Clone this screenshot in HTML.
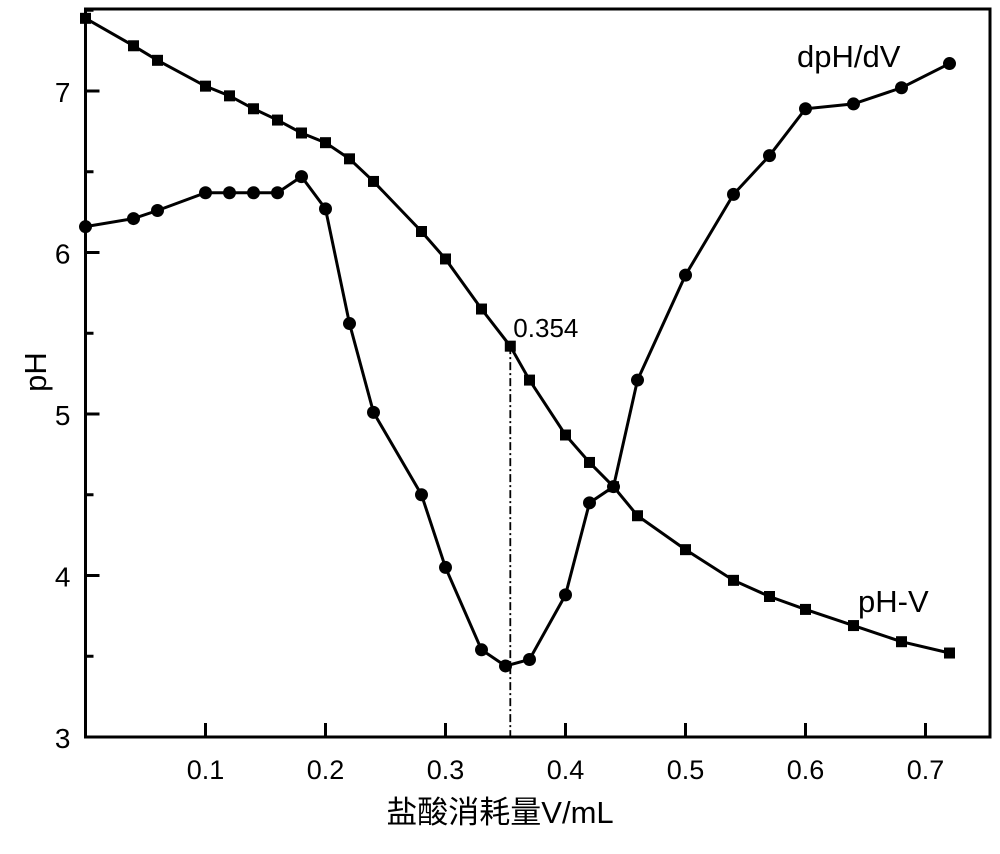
<!DOCTYPE html>
<html><head><meta charset="utf-8"><style>
body{margin:0;background:#fff}
svg text{font-family:"Liberation Sans","Noto Sans CJK SC",sans-serif;fill:#000}
</style></head><body>
<svg id="chart" width="1000" height="849" viewBox="0 0 1000 849" xmlns="http://www.w3.org/2000/svg"></svg>
<script>
const xVals=[0,0.04,0.06,0.1,0.12,0.14,0.16,0.18,0.2,0.22,0.24,0.28,0.3,0.33,0.354,0.37,0.4,0.42,0.44,0.46,0.5,0.54,0.57,0.6,0.64,0.68,0.72];
const phVals=[7.45,7.28,7.19,7.03,6.97,6.89,6.82,6.74,6.68,6.58,6.44,6.13,5.96,5.65,5.42,5.21,4.87,4.70,4.55,4.37,4.16,3.97,3.87,3.79,3.69,3.59,3.52];
const dXVals=[0,0.04,0.06,0.1,0.12,0.14,0.16,0.18,0.2,0.22,0.24,0.28,0.3,0.33,0.35,0.37,0.4,0.42,0.44,0.46,0.5,0.54,0.57,0.6,0.64,0.68,0.72];
const dVals=[6.16,6.21,6.26,6.37,6.37,6.37,6.37,6.47,6.27,5.56,5.01,4.50,4.05,3.54,3.44,3.48,3.88,4.45,4.55,5.21,5.86,6.36,6.60,6.89,6.92,7.02,7.17];
const xTicks=[0.1,0.2,0.3,0.4,0.5,0.6,0.7];
const yTicks=[3,4,5,6,7];
const yMinor=[3.5,4.5,5.5,6.5,7.5];
const eqX=0.354, eqPH=5.42;
const L=85.5,R=990,T=9,B=737;
const sx=v=>L+v*1200;
const sy=v=>B-(v-3)*161.5;
const svg=document.getElementById('chart');
const NS='http://www.w3.org/2000/svg';
function mk(tag,attrs,parent){const e=document.createElementNS(NS,tag);for(const k in attrs)e.setAttribute(k,attrs[k]);(parent||svg).appendChild(e);return e;}
const frame=mk('rect',{x:L,y:T,width:R-L,height:B-T,fill:'none',stroke:'#000','stroke-width':3});


xTicks.forEach(t=>{
 const l=mk('line',{x1:sx(t),x2:sx(t),y1:B,y2:B-14,stroke:'#000','stroke-width':3});
 
 
 const tx=mk('text',{x:sx(t),y:B+42,'text-anchor':'middle','font-size':27});
 tx.textContent=t.toFixed(1);
 
 
});
yTicks.forEach(t=>{
 const l=mk('line',{x1:L,x2:L+14,y1:sy(t),y2:sy(t),stroke:'#000','stroke-width':3});
 
 
 const tx=mk('text',{x:L-15,y:sy(t)+11,'text-anchor':'end','font-size':28});
 tx.textContent=String(t);
 
 
});
yMinor.forEach(t=>{
 const l=mk('line',{x1:L,x2:L+8,y1:sy(t),y2:sy(t),stroke:'#000','stroke-width':3});
 
 
});
const vl=mk('line',{x1:sx(eqX),x2:sx(eqX),y1:sy(eqPH),y2:B,stroke:'#000','stroke-width':1.8,'stroke-dasharray':'8,3,2,3'});


const eqT=mk('text',{x:sx(eqX)+3,y:sy(eqPH)-9,'font-size':26});
eqT.textContent='0.354';


const p1=mk('polyline',{points:xVals.map((x,i)=>sx(x)+','+sy(phVals[i])).join(' '),fill:'none',stroke:'#000','stroke-width':3});


xVals.forEach((x,i)=>{
 const r=mk('rect',{x:sx(x)-5.5,y:sy(phVals[i])-5.5,width:11,height:11,fill:'#000'});
 
 
});
const p2=mk('polyline',{points:dXVals.map((x,i)=>sx(x)+','+sy(dVals[i])).join(' '),fill:'none',stroke:'#000','stroke-width':3});


dXVals.forEach((x,i)=>{
 const c=mk('circle',{cx:sx(x),cy:sy(dVals[i]),r:6.5,fill:'#000'});
 
 
});
const l1=mk('text',{x:797,y:67,'font-size':31});
l1.textContent='dpH/dV';


const l2=mk('text',{x:858,y:612,'font-size':31});
l2.textContent='pH-V';


const xt=mk('text',{x:500,y:823,'text-anchor':'middle','font-size':31});
xt.textContent='盐酸消耗量V/mL';


const yt=mk('text',{x:0,y:0,'text-anchor':'middle','font-size':31,transform:'translate(46,372) rotate(-90)'});
yt.textContent='pH';


</script>
</body></html>
